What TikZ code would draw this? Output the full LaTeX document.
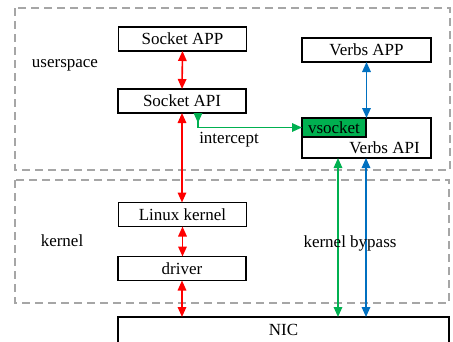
\documentclass[tikz,border=0pt]{standalone}
\usepackage{fontspec}
\setmainfont{Liberation Serif}
\usetikzlibrary{arrows.meta}
\definecolor{netred}{RGB}{255,0,0}
\definecolor{netgreen}{RGB}{0,176,80}
\definecolor{netblue}{RGB}{0,112,192}
\definecolor{zonegray}{RGB}{166,166,166}
\begin{document}
\begin{tikzpicture}[x=1pt,y=-1pt,
  font=\fontsize{17}{19}\selectfont,
  zone/.style={draw=zonegray,line width=1.3pt,dash pattern=on 8pt off 5pt},
  box/.style={draw=black,line width=1.3pt,fill=white,inner sep=0pt,outer sep=0pt,
    minimum width=128pt,minimum height=24pt},
  tip/.tip={Triangle[length=10pt,width=8.5pt]},
  link/.style={line width=1.6pt,{tip}-{tip}},
  txt/.style={inner sep=0pt}]
\useasboundingbox (0,0) rectangle (453,341);

% address-space zones
\draw[zone] (15,8) rectangle (450,170);
\draw[zone] (15,180) rectangle (449,303);
\node[txt] (usr) at (65,65) {userspace};
\node[txt] (krn) at (62,241) {kernel};

% socket stack
\node[box] (sapp) at (182.5,39) {Socket APP};
\node[box] (sapi) at (182,101) {Socket API};
\node[box] (lk) at (182.5,214.5) {Linux kernel};
\node[box] (drv) at (182,268.5) {driver};
\node[box,minimum width=331pt,minimum height=26pt] (nic) at (283.5,330) {NIC};

% verbs stack
\node[box,minimum width=129pt] (vapp) at (366.5,50) {Verbs APP};
\node[box,minimum width=129pt,minimum height=40pt] (vapi) at (366.5,138) {};
\node[draw=black,line width=1.3pt,fill=netgreen,inner sep=0pt,outer sep=0pt,
  minimum width=64pt,minimum height=19pt] (vsock) at (334,127.5) {vsocket};
\node[txt] (vapitxt) at (384.5,148) {Verbs API};

% kernel path
\draw[link,netred] (sapp.south) -- (sapi.north);
\draw[link,netred] (sapi.south) -- (sapi.south |- lk.north);
\draw[link,netred] (lk.south) -- (lk.south |- drv.north);
\draw[link,netred] (drv.south) -- (drv.south |- nic.north);

% interception into vsocket
\draw[line width=1.6pt,netgreen,{tip[reversed]}-{tip}]
  ([xshift=16pt]sapi.south) |- (vsock.west);
\node[txt] (icp) at (229,139.5) {intercept};

% kernel bypass
\draw[link,netblue] (vapp.south) -- (vapp.south |- vapi.north);
\draw[link,netgreen] ([xshift=4pt]vsock.center |- vapi.south)
  -- ([xshift=4pt]vsock.center |- nic.north);
\draw[link,netblue] (vsock.east |- vapi.south) -- (vsock.east |- nic.north);
\node[txt] (byp) at (350,243) {kernel bypass};
\end{tikzpicture}
\end{document}
